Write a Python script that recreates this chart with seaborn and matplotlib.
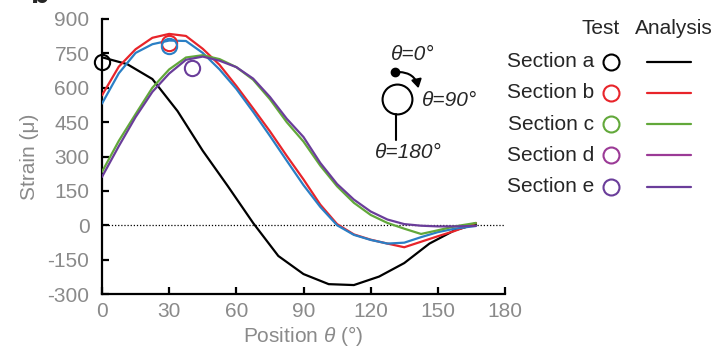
import numpy as np
import pandas as pd
import matplotlib
matplotlib.use('Agg')
import matplotlib.pyplot as plt
import seaborn as sns
from matplotlib.lines import Line2D
from matplotlib.patches import FancyArrowPatch

# --- data ---
pos_a = [0, 11.25, 22.5, 33.75, 45, 56.25, 67.5, 78.75, 90, 101.25, 112.5, 123.75, 135, 146.25, 157.5, 167]
strain_a = [733, 703, 638, 498, 325, 170, 10, -134, -213, -257, -261, -224, -165, -80, -22, 5]

pos = [0, 7.5, 15, 22.5, 30, 37.5, 45, 52.5, 60, 67.5, 75, 82.5, 90, 97.5, 105, 112.5,
       120, 127.5, 135, 142.5, 150, 157.5, 167]
strain_b = [567, 692, 768, 818, 835, 826, 770, 700, 608, 510, 410, 303, 200, 90, 5, -40,
            -63, -80, -96, -72, -48, -25, 10]
strain_c = [531, 663, 752, 790, 806, 804, 752, 680, 595, 495, 390, 282, 175, 80, 0, -42,
            -64, -80, -76, -52, -30, -15, -3]
strain_d = [233, 368, 485, 600, 680, 732, 742, 725, 690, 635, 550, 450, 365, 260, 170, 98,
            45, 10, -15, -38, -22, -5, 10]
strain_e = [211, 345, 472, 582, 662, 722, 736, 718, 690, 640, 560, 465, 385, 272, 180, 112,
            60, 25, 5, -2, -5, -5, -3]

# test points
test_pos = [0, 30, 30, 40]
test_strain = [712, 797, 782, 686]
test_cols = ['#000000', '#e8242a', '#2a7fc5', '#6a3d9a']

line_names = ['a', 'b', 'c', 'd', 'e']
line_cols = ['#000000', '#e8242a', '#2a7fc5', '#62a83a', '#6a3d9a']

legend_labels = ['Section a', 'Section b', 'Section c', 'Section d', 'Section e']
legend_cols = ['#000000', '#e8242a', '#62a83a', '#9b3a96', '#6a3d9a']

xticks = [0, 30, 60, 90, 120, 150, 180]
yticks = [-300, -150, 0, 150, 300, 450, 600, 750, 900]

# long-form table
frames = [pd.DataFrame({'pos': pos_a, 'strain': strain_a, 'sec': 'a'})]
for n, s in zip(['b', 'c', 'd', 'e'], [strain_b, strain_c, strain_d, strain_e]):
    frames.append(pd.DataFrame({'pos': pos, 'strain': s, 'sec': n}))
df = pd.concat(frames, ignore_index=True)

sns.set_theme(style='ticks')
plt.rcParams['font.family'] = ['Liberation Sans', 'DejaVu Sans']
plt.rcParams['mathtext.fontset'] = 'custom'
plt.rcParams['mathtext.rm'] = 'Liberation Sans'
plt.rcParams['mathtext.it'] = 'Liberation Sans:italic'
plt.rcParams['axes.unicode_minus'] = False

W, H = 726, 349
fig = plt.figure(figsize=(W / 100, H / 100), dpi=100)
ax = fig.add_axes([102 / W, 1 - 294 / H, (505 - 102) / W, (294 - 19) / H])

ax.axhline(0, color='black', lw=0.9, ls=(0, (1, 1.5)), zorder=1)

sns.lineplot(data=df, x='pos', y='strain', hue='sec', hue_order=line_names,
             palette=dict(zip(line_names, line_cols)), estimator=None, sort=False,
             lw=1.6, legend=False, ax=ax, zorder=3)

for x, y, c in zip(test_pos, test_strain, test_cols):
    ax.plot(x, y, 'o', mfc='none', mec=c, ms=11, mew=1.5, clip_on=False, zorder=5)

grey = '#8a8a8a'
ax.set_xlim(0, 180)
ax.set_ylim(-300, 900)
ax.set_xticks(xticks)
ax.set_yticks(yticks)
sns.despine(ax=ax)
for s in ['left', 'bottom']:
    ax.spines[s].set_linewidth(1.6)
    ax.spines[s].set_color('black')
ax.tick_params(direction='in', length=5, width=1.6, color='black', labelsize=15, labelcolor=grey)
ax.tick_params(axis='y', pad=9)
ax.tick_params(axis='x', pad=6)
ax.set_xlabel(r'Position $\it{\theta}$ (°)', fontsize=15, color=grey, labelpad=2)
ax.set_ylabel('Strain (μ)', fontsize=15, color=grey, labelpad=6)


def fx(px):
    return px / W


def fy(py):
    return 1 - py / H


# orientation sketch
fig.text(fx(413), fy(55), 'θ=0°', fontsize=15, style='italic', ha='center', va='center')
fig.text(fx(422), fy(101), 'θ=90°', fontsize=15, style='italic', ha='left', va='center')
fig.text(fx(408), fy(153), 'θ=180°', fontsize=15, style='italic', ha='center', va='center')
fig.add_artist(Line2D([fx(397)], [fy(99)], marker='o', ms=21.5, mfc='white', mec='black',
                      mew=1.5, transform=fig.transFigure))
fig.add_artist(Line2D([fx(396), fx(396)], [fy(114), fy(140)], color='black', lw=1.5,
                      transform=fig.transFigure))
fig.add_artist(Line2D([fx(395)], [fy(72)], marker='o', ms=6, mfc='black', mec='black',
                      transform=fig.transFigure))
fig.add_artist(FancyArrowPatch((fx(396), fy(72)), (fx(419), fy(91)), transform=fig.transFigure,
                               connectionstyle='arc3,rad=-0.45', arrowstyle='-|>,head_length=5,head_width=3',
                               color='black', lw=1.5))

# legend table
fig.text(fx(601), fy(28), 'Test', fontsize=15, ha='center', va='center')
fig.text(fx(674), fy(28), 'Analysis', fontsize=15, ha='center', va='center')
for i, (lab, c) in enumerate(zip(legend_labels, legend_cols)):
    yy = fy(61.7 + i * 31.25)
    fig.text(fx(594), yy, lab, fontsize=15, ha='right', va='center')
    fig.add_artist(Line2D([fx(611)], [yy], marker='o', ms=11.5, mfc='none', mec=c, mew=1.5,
                          transform=fig.transFigure))
    fig.add_artist(Line2D([fx(647), fx(691)], [yy, yy], color=c, lw=1.6,
                          transform=fig.transFigure))

# clipped panel letter, as in the source figure
fig.text(fx(40), fy(3), 'b', fontsize=22, fontweight='bold', ha='center', va='baseline')

fig.savefig('out.png', dpi=100)
